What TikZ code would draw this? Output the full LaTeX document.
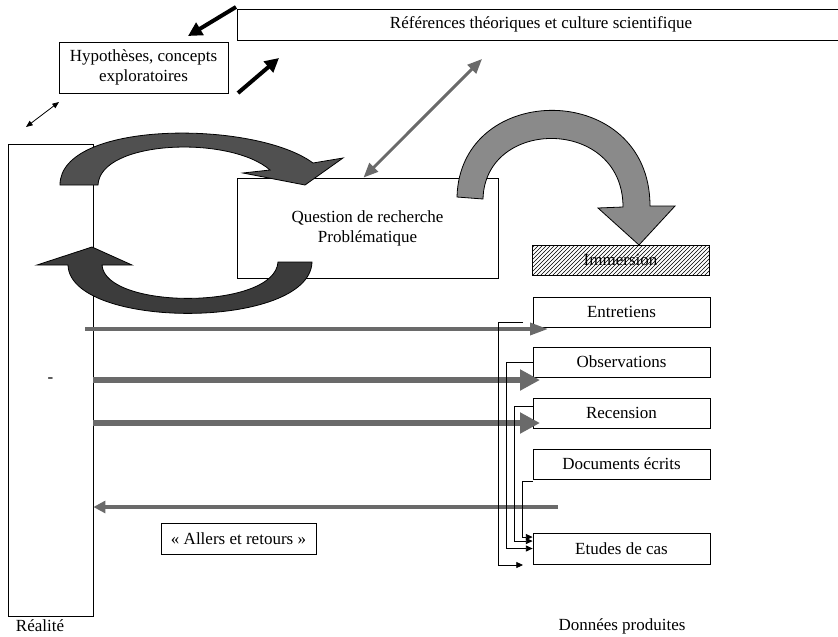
\documentclass[tikz,border=0pt]{standalone}
\usepackage{fontspec}
\setmainfont{Liberation Serif}
\usetikzlibrary{arrows.meta,patterns}

\definecolor{sombre}{HTML}{505050}
\definecolor{tressombre}{HTML}{3C3C3C}
\definecolor{moyen}{HTML}{8A8A8A}
\definecolor{grisfleche}{HTML}{6A6A6A}

\tikzset{
  every node/.style={font=\fontsize{12.75}{15}\selectfont},
  boite/.style={draw, rectangle, inner sep=0pt, align=center, line width=0.6pt},
  donnee/.style={boite, minimum width=132.75pt, minimum height=22.5pt},
  noire/.style={line width=3pt, -{Triangle[length=10.5pt,width=10.5pt]}},
  lien/.style={line width=0.6pt, -{Triangle[length=5pt,width=4.5pt]}},
  courbe/.style={draw=black, line width=0.6pt},
}

\begin{document}
\begin{tikzpicture}[x=0.75pt,y=-0.75pt]
\useasboundingbox (0,0) rectangle (838,636);
\clip (0,0) rectangle (838,636);

% boites
\node[boite, minimum width=456pt, minimum height=23.25pt] (refs) at (541,24.5) {Références théoriques et culture scientifique};
\node[boite, minimum width=126.75pt, minimum height=38.25pt] (hyp) at (143.5,67.5) {Hypothèses, concepts\\exploratoires};
\node[boite, minimum width=63.75pt, minimum height=354pt] (realite) at (50.5,380) {-};
\node[boite, minimum width=195.75pt, minimum height=75pt] (question) at (367.5,228) {Question de recherche\\Problématique};
\node[boite, minimum width=132.75pt, minimum height=22.5pt, pattern=north east lines] (immersion) at (620.5,260) {};
\node at (immersion) {Immersion};
\foreach \nom/\txt/\y in {entretiens/Entretiens/312, observations/Observations/362, recension/Recension/413, documents/Documents écrits/464}
  \node[donnee] (\nom) at (621.5,\y) {\txt};
\node[donnee, minimum height=23.25pt] (etudes) at (621.5,548.5) {Etudes de cas};
\node[boite, minimum width=116.25pt, minimum height=23.25pt] (allers) at (238.5,538.5) {« Allers et retours »};
\node (lreal) at (40,626) {Réalité};
\node (ldonnees) at (622,626) {Données produites};

% fleches noires du haut
\coordinate (n1) at (236,7);
\coordinate (n2) at (188,36);
\coordinate (n3) at (238,93);
\coordinate (n4) at (279,58);
\draw[noire] (n1) -- (n2);
\draw[noire] (n3) -- (n4);
\coordinate (d1) at (26,127);
\coordinate (d2) at (59,102);
\draw[line width=0.6pt, {Triangle[length=5pt,width=4pt]}-{Triangle[length=5pt,width=4pt]}] (d1) -- (d2);
\coordinate (g1) at (482,59);
\draw[grisfleche, line width=2.2pt, {Triangle[length=11pt,width=9pt]}-{Triangle[length=11pt,width=9pt]}] ([xshift=-3pt]question.north) -- (g1);

% fleches courbes
\draw[courbe, fill=sombre] (60,185) .. controls (60,120) and (255,120) .. (313,163) -- (343,158) -- (305,185) -- (243,173) -- (270,170) .. controls (230,135) and (100,140) .. (98,185) -- cycle;
\draw[courbe, fill=tressombre] (312,262) .. controls (310,330) and (70,330) .. (68,265) -- (37,265) -- (92,247) -- (132,265) -- (102,265) .. controls (105,310) and (275,310) .. (278,262) -- cycle;
\draw[courbe, fill=moyen] (457,197) .. controls (460,80) and (650,80) .. (650,206) -- (675,206) -- (639,245) -- (598,208) -- (623,207) .. controls (623,117) and (485,117) .. (483,199) -- cycle;

% fleches horizontales
\coordinate (h1) at (85,329);
\coordinate (h1e) at (548,329);
\coordinate (h2e) at (540,380);
\coordinate (h3e) at (540,423);
\coordinate (h4) at (558,507);
\draw[grisfleche, line width=2.6pt, -{Triangle[length=13.5pt,width=9pt]}] (h1) -- (h1e);
\draw[grisfleche, line width=4.5pt, -{Triangle[length=15pt,width=15pt]}] (realite.east |- h2e) -- (h2e);
\draw[grisfleche, line width=4.5pt, -{Triangle[length=15pt,width=15pt]}] (realite.east |- h3e) -- (h3e);
\draw[grisfleche, line width=3pt, -{Triangle[length=9pt,width=9pt]}] (h4) -- (realite.east |- h4);

% liens vers les etudes de cas
\coordinate (e1) at (523,322);
\coordinate (e2) at (523,565);
\draw[lien] (e1) -- ++(-25,0) |- (e2);
\draw[lien] (observations.west) -- ++(-26,0) |- (etudes.west);
\draw[lien] ([yshift=5.25pt]recension.west) -- ++(-18,0) |- ([yshift=5.6pt]etudes.west);
\draw[lien] ([yshift=-1.5pt]documents.south west) -- ++(-10,0) |- ([yshift=8.6pt]etudes.west);
\end{tikzpicture}
\end{document}
